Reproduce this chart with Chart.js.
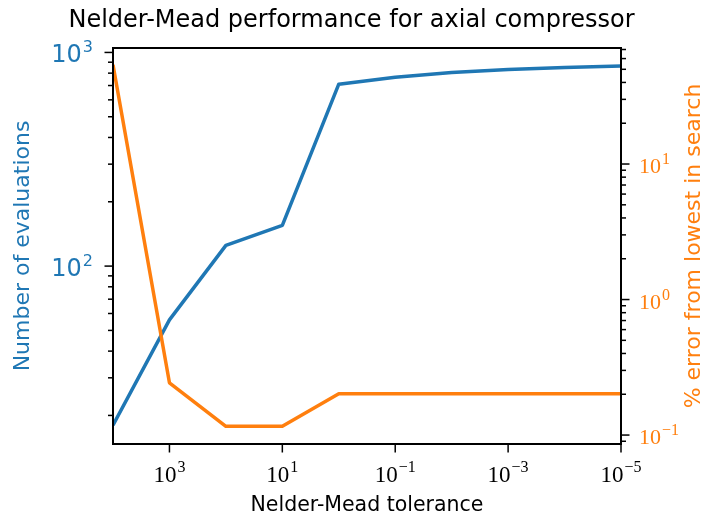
<!DOCTYPE html>
<html>
<head>
<meta charset="utf-8">
<script src="https://cdn.jsdelivr.net/npm/chart.js@4.4.1/dist/chart.umd.min.js"></script>
<style>
  html, body { margin: 0; padding: 0; background: #fff; }
  #wrap { width: 703px; height: 523px; }
</style>
</head>
<body>
<div id="wrap"><canvas id="c" width="703" height="523"></canvas></div>
<script>
// ---- data ----
const tolerances = [1e4, 1e3, 1e2, 1e1, 1e0, 1e-1, 1e-2, 1e-3, 1e-4, 1e-5];
const evaluations = [18, 56, 125, 155, 710, 765, 805, 832, 850, 865];
const percentError = [54, 0.243, 0.116, 0.116, 0.202, 0.202, 0.202, 0.202, 0.202, 0.202];
const xTickExponents = [3, 1, -1, -3, -5];
const leftTickExponents = [2, 3];
const rightTickExponents = [-1, 0, 1];

const BLUE = '#1f77b4';
const ORANGE = '#ff7f0e';
const SANS = "'DejaVu Sans', sans-serif";
const SERIF = "'Liberation Serif', 'DejaVu Serif', serif";

function expText(e) { return (e < 0 ? '\u2212' : '') + Math.abs(e); }

function drawPow(ctx, e, x, baseY, align, baseFont, expFont, raise, color) {
  const es = expText(e);
  ctx.font = baseFont;
  const wb = ctx.measureText('10').width;
  ctx.font = expFont;
  const we = ctx.measureText(es).width;
  const gap = 1;
  const total = wb + gap + we;
  let sx = x;
  if (align === 'right') sx = x - total;
  else if (align === 'center') sx = x - total / 2;
  ctx.fillStyle = color;
  ctx.textAlign = 'left';
  ctx.textBaseline = 'alphabetic';
  ctx.font = baseFont;
  ctx.fillText('10', sx, baseY);
  ctx.font = expFont;
  ctx.fillText(es, sx + wb + gap, baseY - raise);
}

function minorValues(minV, maxV) {
  const out = [];
  for (let k = Math.floor(Math.log10(minV)); k <= Math.ceil(Math.log10(maxV)); k++) {
    for (let m = 2; m <= 9; m++) {
      const v = m * Math.pow(10, k);
      if (v >= minV && v <= maxV) out.push(v);
    }
  }
  return out;
}

const decorPlugin = {
  id: 'decor',
  afterDraw(chart) {
    const ctx = chart.ctx;
    const { left, right, top, bottom } = chart.chartArea;
    const xs = chart.scales.x, yl = chart.scales.y, yr = chart.scales.y2;
    ctx.save();
    ctx.strokeStyle = '#000';
    ctx.lineWidth = 1.5;
    ctx.lineCap = 'butt';
    const MAJ = 8.5, MIN = 5;
    // x major ticks
    xTickExponents.forEach(e => {
      const px = xs.getPixelForValue(Math.pow(10, e));
      ctx.beginPath(); ctx.moveTo(px, bottom); ctx.lineTo(px, bottom + MAJ); ctx.stroke();
      drawPow(ctx, e, px, 482, 'center', '23px ' + SERIF, '16px ' + SERIF, 10, '#000');
    });
    // left ticks
    minorValues(yl.min, yl.max).forEach(v => {
      const py = yl.getPixelForValue(v);
      ctx.beginPath(); ctx.moveTo(left, py); ctx.lineTo(left - MIN, py); ctx.stroke();
    });
    leftTickExponents.forEach(e => {
      const py = yl.getPixelForValue(Math.pow(10, e));
      ctx.beginPath(); ctx.moveTo(left, py); ctx.lineTo(left - MAJ, py); ctx.stroke();
      drawPow(ctx, e, 93, py + 10, 'right', '24px ' + SANS, '16px ' + SANS, 10, BLUE);
    });
    // right ticks
    minorValues(yr.min, yr.max).forEach(v => {
      const py = yr.getPixelForValue(v);
      ctx.beginPath(); ctx.moveTo(right, py); ctx.lineTo(right + MIN, py); ctx.stroke();
    });
    rightTickExponents.forEach(e => {
      const py = yr.getPixelForValue(Math.pow(10, e));
      ctx.beginPath(); ctx.moveTo(right, py); ctx.lineTo(right + MAJ, py); ctx.stroke();
      drawPow(ctx, e, 639, py + 9, 'left', '22px ' + SERIF, '16px ' + SERIF, 9, ORANGE);
    });
    // frame
    ctx.lineWidth = 2;
    ctx.strokeRect(left, top, right - left, bottom - top);
    // right axis title (reads bottom-to-top like the reference)
    ctx.save();
    ctx.translate(700, (top + bottom) / 2);
    ctx.rotate(-Math.PI / 2);
    ctx.font = '22px ' + SANS;
    ctx.fillStyle = ORANGE;
    ctx.textAlign = 'center';
    ctx.textBaseline = 'alphabetic';
    ctx.fillText('% error from lowest in search', 0, 0);
    ctx.restore();
    ctx.restore();
  }
};

const evalPoints = tolerances.map((t, i) => ({ x: t, y: evaluations[i] }));
const errPoints = tolerances.map((t, i) => ({ x: t, y: percentError[i] }));

new Chart(document.getElementById('c'), {
  type: 'line',
  data: {
    datasets: [
      {
        label: 'Number of evaluations',
        data: evalPoints,
        yAxisID: 'y',
        borderColor: BLUE,
        borderWidth: 3.5,
        pointRadius: 0,
        tension: 0,
        borderJoinStyle: 'round',
        order: 1
      },
      {
        label: '% error from lowest in search',
        data: errPoints,
        yAxisID: 'y2',
        borderColor: ORANGE,
        borderWidth: 3.5,
        pointRadius: 0,
        tension: 0,
        borderJoinStyle: 'round',
        order: 0
      }
    ]
  },
  options: {
    responsive: false,
    devicePixelRatio: 1,
    animation: false,
    layout: { padding: 0 },
    plugins: {
      legend: { display: false },
      tooltip: { enabled: false },
      title: {
        display: true,
        text: 'Nelder-Mead performance for axial compressor',
        color: '#000',
        font: { family: SANS, size: 24, weight: 'normal', lineHeight: 1.2 },
        padding: { top: 6, bottom: 13.2 }
      }
    },
    scales: {
      x: {
        type: 'logarithmic',
        position: 'bottom',
        reverse: true,
        min: 1e-5,
        max: 1e4,
        grid: { display: false },
        border: { display: false },
        ticks: { display: false },
        title: {
          display: true,
          text: 'Nelder-Mead tolerance',
          color: '#000',
          font: { family: SANS, size: 20.5, lineHeight: 1.2 },
          padding: { top: 0, bottom: 4.8 }
        },
        afterFit: s => { s.height = 79; }
      },
      y: {
        type: 'logarithmic',
        position: 'left',
        min: 14.7,
        max: 1049,
        grid: { display: false },
        border: { display: false },
        ticks: { display: false },
        title: {
          display: true,
          text: 'Number of evaluations',
          color: BLUE,
          font: { family: SANS, size: 22, lineHeight: 1.2 },
          padding: { top: 10, bottom: 0 }
        },
        afterFit: s => { s.width = 113; }
      },
      y2: {
        type: 'logarithmic',
        position: 'right',
        min: 0.0859,
        max: 71.8,
        grid: { display: false },
        border: { display: false },
        ticks: { display: false },
        afterFit: s => { s.width = 82; }
      }
    }
  },
  plugins: [decorPlugin]
});
</script>
</body>
</html>
